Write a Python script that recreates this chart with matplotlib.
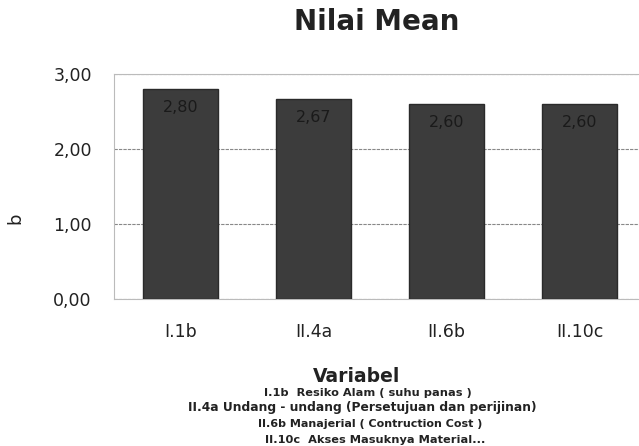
import numpy as np
import matplotlib
matplotlib.use("Agg")
import matplotlib.pyplot as plt
from matplotlib.ticker import FuncFormatter

# data
categories = ["I.1b", "II.4a", "II.6b", "II.10c"]
means = [2.80, 2.67, 2.60, 2.60]
legend_lines = [
    "I.1b  Resiko Alam ( suhu panas )",
    "II.4a Undang - undang (Persetujuan dan perijinan)",
    "II.6b Manajerial ( Contruction Cost )",
    "II.10c  Akses Masuknya Material...",
]

plt.rcParams["font.family"] = ["DejaVu Sans"]

fig = plt.figure(figsize=(6.39, 4.46), dpi=100)
ax = fig.add_axes([114 / 639, 1 - 299 / 446, 1 - 114 / 639, 225 / 446])

x = np.arange(len(categories))
bars = ax.bar(x, means, width=0.56, color="#3c3c3c", edgecolor="#2a2a2a", zorder=3)
for b, v in zip(bars, means):
    ax.text(b.get_x() + b.get_width() / 2, v - 0.25, f"{v:.2f}".replace(".", ","),
            ha="center", va="center", fontsize=11.5, color="#1a1a1a", zorder=4)

ax.set_xlim(-0.5, -0.5 + 525 / 133)
ax.set_ylim(0, 3)
ax.set_yticks([0, 1, 2, 3])
ax.yaxis.set_major_formatter(FuncFormatter(lambda v, p: f"{v:.2f}".replace(".", ",")))
ax.set_xticks(x)
ax.set_xticklabels(categories)
ax.tick_params(length=0, labelsize=12.5, colors="#222222")
ax.tick_params(axis="y", labelsize=12.5, pad=16)
ax.tick_params(axis="x", pad=17)
ax.grid(axis="y", color="#888888", linestyle=(0, (3, 1)), linewidth=0.8, zorder=0)
for s in ax.spines.values():
    s.set_color("#bbbbbb")
    s.set_linewidth(0.8)
ax.spines["right"].set_visible(False)

fig.text(15 / 639, 1 - 218 / 446, "b", rotation=90, ha="center", va="center", fontsize=13, color="#222222")
fig.text(377 / 639, 1 - 22 / 446, "Nilai Mean", ha="center", va="center", fontsize=20, fontweight="bold", color="#222222")
fig.text(357 / 639, 1 - 376 / 446, "Variabel", ha="center", va="center", fontsize=13.5, fontweight="bold", color="#222222")
ys = [393, 408, 424, 440]
xs = [368, 362, 370, 375]
sizes = [8.2, 8.8, 8, 8.2]
for t, xx, yy, fs in zip(legend_lines, xs, ys, sizes):
    fig.text(xx / 639, 1 - yy / 446, t, ha="center", va="center", fontsize=fs, fontweight="bold", color="#222222")

fig.savefig("out.png", dpi=100)
